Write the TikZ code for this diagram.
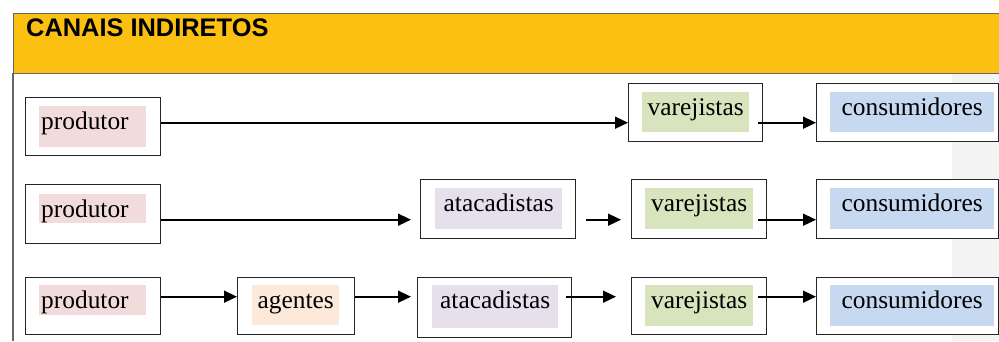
\documentclass[tikz,border=0pt]{standalone}
\usepackage{xcolor}
\usepackage{fontspec}
\setmainfont{Liberation Serif}
\newfontfamily\headfont{Liberation Sans}
\usetikzlibrary{arrows.meta}
\definecolor{headyellow}{RGB}{251,192,18}
\definecolor{prodpink}{HTML}{F2DCDB}
\definecolor{varegreen}{HTML}{D7E4BD}
\definecolor{atacviolet}{HTML}{E5E0EC}
\definecolor{agentpeach}{HTML}{FDE9D9}
\definecolor{consblue}{HTML}{C6D9F1}
\definecolor{panelgray}{HTML}{F4F4F4}

\begin{document}
\begin{tikzpicture}
		[x=1pt, y=-1pt,
			box/.style ={rectangle, draw=black!85, line width=1.4pt, fill=white, anchor=north west, inner sep=0pt},
 tag/.style ={rectangle, inner sep=0pt, anchor=north west, text height=23pt, font=\fontsize{25.4}{30}\selectfont},
 line/.style ={draw, line width=1.6pt, -{Triangle[length=13pt,width=12pt]}}]
		\useasboundingbox[fill=white] (0,0) rectangle (999,341);
%		header and frame
		\fill[panelgray] (952,73) rectangle (999,341);
		\draw[fill=headyellow, draw=black!60, line width=1pt] (1005,13) -- (13,13) -- (13,73) -- (1005,73);
		\draw[black!60, line width=1.3pt] (13,73) -- (13,341);
		\node[anchor=base west, inner sep=0pt, font=\headfont\bfseries\fontsize{25.4}{30}\selectfont] (title) at (26,36) {CANAIS INDIRETOS};
%		first row
		\node[box, minimum width=135pt, minimum height=58pt] (prod1) at (25,97) {};
		\node[box, minimum width=134pt, minimum height=58pt] (var1) at (628,83) {};
		\node[box, minimum width=182pt, minimum height=58pt] (cons1) at (816,83) {};
		\node[tag, fill=prodpink, text width=103pt, inner xsep=2pt, align=left, text depth=18pt] (prod1t) at (39,106) {produtor};
		\node[tag, fill=varegreen, minimum width=107pt, text depth=17pt] (var1t) at (642,92) {varejistas};
		\node[tag, fill=consblue, minimum width=164pt, text depth=17pt] (cons1t) at (830,92) {consumidores};
%		second row
		\node[box, minimum width=135pt, minimum height=59pt] (prod2) at (25,184) {};
		\node[box, minimum width=155pt, minimum height=59pt] (atac2) at (420,179) {};
		\node[box, minimum width=135pt, minimum height=59pt] (var2) at (631,179) {};
		\node[box, minimum width=182pt, minimum height=59pt] (cons2) at (816,179) {};
		\node[tag, fill=prodpink, text width=103pt, inner xsep=2pt, align=left, text depth=6pt] (prod2t) at (39,194) {produtor};
		\node[tag, fill=atacviolet, minimum width=127pt, text depth=18pt] (atac2t) at (435,188) {atacadistas};
		\node[tag, fill=varegreen, minimum width=108pt, text depth=18pt] (var2t) at (645,188) {varejistas};
		\node[tag, fill=consblue, minimum width=164pt, text depth=18pt] (cons2t) at (830,188) {consumidores};
%		third row
		\node[box, minimum width=135pt, minimum height=57pt] (prod3) at (25,277) {};
		\node[box, minimum width=117pt, minimum height=57pt] (ag3) at (237,277) {};
		\node[box, minimum width=154pt, minimum height=60pt] (atac3) at (417,277) {};
		\node[box, minimum width=135pt, minimum height=57pt] (var3) at (631,277) {};
		\node[box, minimum width=182pt, minimum height=57pt] (cons3) at (816,277) {};
		\node[tag, fill=prodpink, text width=103pt, inner xsep=2pt, align=left, text depth=7pt] (prod3t) at (39,285) {produtor};
		\node[tag, fill=agentpeach, minimum width=87pt, text depth=17pt] (ag3t) at (252,285) {agentes};
		\node[tag, fill=atacviolet, minimum width=126pt, text depth=20pt] (atac3t) at (432,285) {atacadistas};
		\node[tag, fill=varegreen, minimum width=108pt, text depth=18pt] (var3t) at (645,285) {varejistas};
		\node[tag, fill=consblue, minimum width=164pt, text depth=18pt] (cons3t) at (830,285) {consumidores};
%		arrows
		\draw[line] ([yshift=4pt]prod1.east) -- ([yshift=4pt]prod1.east -| var1.west);
		\draw[line] ([shift={(-5pt,-10pt)}]var1.east) -- ([yshift=-10pt]cons1.west);
		\draw[line, shorten >=9pt] ([yshift=-5.5pt]prod2.east) -- ([yshift=-5.5pt]prod2.east -| atac2.west);
		\draw[line, shorten <=10pt, shorten >=10pt] ([yshift=-10.5pt]atac2.east) -- ([yshift=-10.5pt]var2.west);
		\draw[line] ([shift={(-9pt,-10.5pt)}]var2.east) -- ([yshift=-10.5pt]cons2.west);
		\draw[line] ([yshift=9.5pt]prod3.east) -- ([yshift=9.5pt]ag3.west);
		\draw[line, shorten >=6pt] ([yshift=9.5pt]ag3.east) -- ([yshift=9.5pt]ag3.east -| atac3.west);
		\draw[line, shorten >=9pt] ([shift={(-6pt,11pt)}]atac3.east) -- ([shift={(-6pt,11pt)}]atac3.east -| var3.west);
		\draw[line] ([shift={(-9pt,9.5pt)}]var3.east) -- ([yshift=9.5pt]cons3.west);
	\end{tikzpicture}
\end{document}
